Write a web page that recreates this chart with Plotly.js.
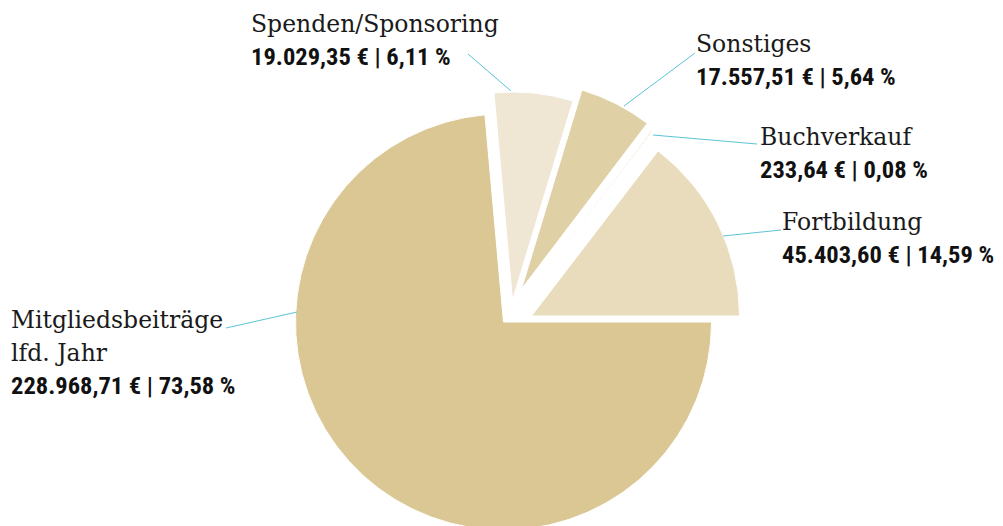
<!DOCTYPE html>
<html>
<head>
<meta charset="utf-8">
<script src="https://cdn.plot.ly/plotly-3.0.1.min.js"></script>
<style>
html,body{margin:0;padding:0;overflow:hidden;background:#fff;}
#chart{width:1003px;height:600px;}
text[style*="Condensed"], text[style*="Condensed"] tspan { font-stretch: condensed; }
</style>
</head>
<body>
<div id="chart"></div>
<script>
// ---- data ----
const categories = ["Fortbildung", "Buchverkauf", "Sonstiges", "Spenden/Sponsoring", "Mitgliedsbeiträge lfd. Jahr"];
const nameLines = [["Fortbildung"], ["Buchverkauf"], ["Sonstiges"], ["Spenden/Sponsoring"], ["Mitgliedsbeiträge", "lfd. Jahr"]];
const amounts = [45403.60, 233.64, 17557.51, 19029.35, 228968.71];
const amountLabels = ["45.403,60 €", "233,64 €", "17.557,51 €", "19.029,35 €", "228.968,71 €"];
const percentLabels = ["14,59 %", "0,08 %", "5,64 %", "6,11 %", "73,58 %"];
const colors = ["#e8dcbc", "#dccb9c", "#e0d0a6", "#efe7d4", "#dbc794"];

// ---- layout (pixels) ----
const W = 1003, H = 600;
const px = x => x / W;
const py = y => 1 - y / H;

const cx = 503.5, cy = 322, r = 208;
// explode offset of each slice, in pixels (dx right, dy down)
const offsets = [[28, -6], [22, -25], [18, -33], [9, -22], [0, 0]];
const total = amounts.reduce((a, b) => a + b, 0);
// first slice (counterclockwise) starts at 3 o'clock
const rotation = 90 - 360 * amounts[0] / total;

// label placement (left x, baseline of first line) and leader lines
const labelPos = [
  {x: 783, y: 230, line: [723, 236, 781, 230]},
  {x: 761, y: 145, line: [653, 135, 757, 144]},
  {x: 697, y: 52,  line: [624, 106, 695, 53]},
  {x: 252, y: 32,  line: [511, 91, 468, 54]},
  {x: 12,  y: 328, line: [297, 312, 226, 328]}
];
const lineGap = 32.5;
const fs = 23.5;
const padX = 3;

const serif = "DejaVu Serif, serif";
const boldFont = "Roboto Condensed, DejaVu Sans Condensed, Liberation Sans Narrow, Roboto, sans-serif";

const annotations = [];
const shapes = [];
categories.forEach((c, i) => {
  const p = labelPos[i];
  const lines = nameLines[i];
  lines.forEach((t, k) => {
    annotations.push({
      xref: "paper", yref: "paper",
      x: px(p.x - padX), y: py(p.y + k * lineGap - fs * 0.32),
      xanchor: "left", yanchor: "middle",
      text: t, showarrow: false,
      font: {family: serif, size: fs, color: "#1a1a1a"}
    });
  });
  annotations.push({
    xref: "paper", yref: "paper",
    x: px(p.x - padX), y: py(p.y + lines.length * lineGap - fs * 0.32),
    xanchor: "left", yanchor: "middle",
    text: "<b>" + amountLabels[i] + " | " + percentLabels[i] + "</b>",
    showarrow: false,
    font: {family: boldFont, size: 24.5, color: "#111"}
  });
  const l = p.line;
  shapes.push({
    type: "line", xref: "paper", yref: "paper",
    x0: px(l[0]), y0: py(l[1]), x1: px(l[2]), y1: py(l[3]),
    line: {color: "#5cc3d6", width: 1}
  });
});

// one pie trace per exploded slice (same values, only that slice painted)
const traces = categories.map((c, i) => {
  const [dx, dy] = offsets[i];
  return {
    type: "pie",
    labels: categories,
    values: amounts,
    sort: false,
    direction: "counterclockwise",
    rotation: rotation,
    marker: {
      colors: colors.map((col, j) => j === i ? col : "rgba(0,0,0,0)"),
      line: {
        color: colors.map((col, j) => j === i ? "#ffffff" : "rgba(0,0,0,0)"),
        width: colors.map((col, j) => j === i ? 1 : 0)
      }
    },
    textinfo: "none",
    hoverinfo: "skip",
    showlegend: false,
    domain: {
      x: [px(cx + dx - r), px(cx + dx + r)],
      y: [py(cy + dy + r), py(cy + dy - r)]
    }
  };
});

const layout = {
  width: W, height: H,
  margin: {l: 0, r: 0, t: 0, b: 0},
  paper_bgcolor: "#ffffff",
  showlegend: false,
  annotations: annotations,
  shapes: shapes
};

Plotly.newPlot("chart", traces, layout, {displayModeBar: false, staticPlot: true});
</script>
</body>
</html>
